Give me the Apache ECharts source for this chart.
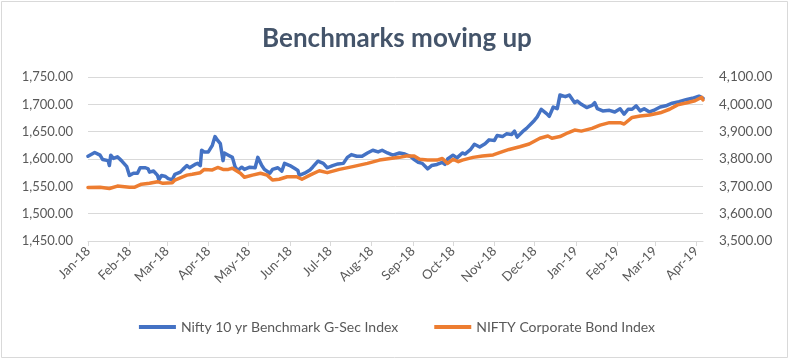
<!DOCTYPE html>
<html>
<head>
<meta charset="utf-8">
<script src="https://cdn.jsdelivr.net/npm/echarts@6/dist/echarts.min.js"></script>
<style>
html,body{margin:0;padding:0;background:#fff;}
#chart{width:794px;height:361px;}
</style>
</head>
<body>
<div id="chart"></div>
<script>
const titleText = 'Benchmarks moving up';
const seriesNames = ['Nifty 10 yr Benchmark G-Sec Index', 'NIFTY Corporate Bond Index'];

const monthTicks = ['2018-01-01','2018-02-01','2018-03-01','2018-04-01','2018-05-01','2018-06-01','2018-07-01','2018-08-01','2018-09-01','2018-10-01','2018-11-01','2018-12-01','2019-01-01','2019-02-01','2019-03-01','2019-04-01'];

const gsecDates = ['2018-01-01','2018-01-06','2018-01-10','2018-01-12','2018-01-16','2018-01-17','2018-01-18','2018-01-20','2018-01-23','2018-01-26','2018-01-30','2018-02-01','2018-02-04','2018-02-07','2018-02-09','2018-02-13','2018-02-15','2018-02-16','2018-02-19','2018-02-22','2018-02-23','2018-02-25','2018-02-28','2018-03-02','2018-03-05','2018-03-07','2018-03-11','2018-03-13','2018-03-16','2018-03-18','2018-03-22','2018-03-24','2018-03-26','2018-03-27','2018-03-29','2018-04-01','2018-04-04','2018-04-06','2018-04-08','2018-04-10','2018-04-12','2018-04-13','2018-04-16','2018-04-19','2018-04-21','2018-04-23','2018-04-26','2018-04-28','2018-05-02','2018-05-06','2018-05-08','2018-05-11','2018-05-13','2018-05-17','2018-05-19','2018-05-23','2018-05-26','2018-05-28','2018-06-01','2018-06-05','2018-06-07','2018-06-08','2018-06-12','2018-06-16','2018-06-18','2018-06-22','2018-06-26','2018-06-29','2018-07-03','2018-07-07','2018-07-11','2018-07-14','2018-07-17','2018-07-21','2018-07-25','2018-07-29','2018-08-02','2018-08-06','2018-08-09','2018-08-13','2018-08-17','2018-08-22','2018-08-26','2018-08-30','2018-09-02','2018-09-05','2018-09-08','2018-09-12','2018-09-15','2018-09-19','2018-09-23','2018-09-25','2018-09-27','2018-10-01','2018-10-04','2018-10-08','2018-10-10','2018-10-14','2018-10-17','2018-10-21','2018-10-25','2018-10-28','2018-11-01','2018-11-03','2018-11-07','2018-11-10','2018-11-14','2018-11-16','2018-11-18','2018-11-22','2018-11-25','2018-11-29','2018-12-01','2018-12-03','2018-12-06','2018-12-10','2018-12-12','2018-12-15','2018-12-18','2018-12-20','2018-12-24','2018-12-27','2018-12-31','2019-01-02','2019-01-05','2019-01-09','2019-01-13','2019-01-15','2019-01-17','2019-01-21','2019-01-26','2019-01-30','2019-02-03','2019-02-06','2019-02-09','2019-02-12','2019-02-15','2019-02-18','2019-02-21','2019-02-25','2019-03-01','2019-03-05','2019-03-10','2019-03-14','2019-03-19','2019-03-25','2019-03-29','2019-04-03','2019-04-06'];
const gsecValues = [1605,1612,1607,1599,1597,1588,1607,1601,1604,1597,1586,1570,1574,1574,1584,1584,1582,1576,1578,1570,1562,1570,1568,1564,1562,1572,1576,1581,1588,1584,1590,1592,1588,1616,1613,1613,1625,1641,1634,1628,1597,1611,1607,1603,1586,1579,1585,1581,1585,1584,1603,1588,1581,1574,1581,1584,1578,1592,1588,1582,1579,1570,1574,1580,1585,1596,1592,1584,1588,1591,1592,1603,1608,1605,1605,1611,1616,1613,1616,1611,1607,1611,1609,1605,1599,1594,1592,1582,1588,1590,1594,1590,1600,1607,1602,1611,1609,1617,1627,1622,1628,1635,1634,1643,1641,1646,1645,1651,1640,1650,1656,1666,1671,1677,1691,1683,1678,1695,1692,1717,1714,1717,1703,1706,1700,1694,1698,1703,1692,1688,1689,1686,1692,1682,1691,1691,1697,1688,1692,1686,1690,1695,1698,1702,1705,1709,1711,1715,1711];

const corpDates = ['2018-01-01','2018-01-10','2018-01-17','2018-01-23','2018-02-01','2018-02-05','2018-02-10','2018-02-16','2018-02-22','2018-02-26','2018-03-05','2018-03-07','2018-03-11','2018-03-16','2018-03-20','2018-03-26','2018-03-29','2018-04-04','2018-04-08','2018-04-12','2018-04-16','2018-04-19','2018-04-25','2018-04-28','2018-05-04','2018-05-10','2018-05-15','2018-05-19','2018-05-24','2018-05-30','2018-06-06','2018-06-10','2018-06-16','2018-06-23','2018-06-29','2018-07-08','2018-07-18','2018-07-29','2018-08-07','2018-08-15','2018-08-22','2018-08-27','2018-09-02','2018-09-06','2018-09-12','2018-09-19','2018-09-23','2018-09-27','2018-10-01','2018-10-05','2018-10-08','2018-10-16','2018-10-23','2018-10-31','2018-11-07','2018-11-12','2018-11-20','2018-11-27','2018-12-05','2018-12-11','2018-12-14','2018-12-20','2018-12-26','2018-12-31','2019-01-05','2019-01-13','2019-01-19','2019-01-26','2019-02-03','2019-02-06','2019-02-12','2019-02-18','2019-02-25','2019-03-05','2019-03-12','2019-03-18','2019-03-25','2019-03-31','2019-04-05','2019-04-06'];
const corpValues = [3696,3697,3692,3701,3697,3697,3708,3711,3717,3711,3713,3723,3731,3741,3744,3750,3762,3760,3769,3762,3762,3766,3748,3733,3741,3748,3741,3723,3726,3735,3735,3726,3741,3757,3750,3762,3772,3784,3796,3802,3806,3811,3811,3799,3796,3796,3802,3784,3799,3790,3796,3806,3811,3815,3827,3835,3845,3855,3876,3884,3876,3882,3896,3906,3902,3912,3924,3933,3933,3928,3952,3957,3961,3969,3982,3998,4006,4013,4026,4016];

const monthNames = ['Jan','Feb','Mar','Apr','May','Jun','Jul','Aug','Sep','Oct','Nov','Dec'];
function fmtNum(v) {
  const s = Math.round(v).toString().replace(/\B(?=(\d{3})+(?!\d))/g, ',');
  return s + '.00';
}
function ts(s) { return Date.UTC(+s.slice(0, 4), +s.slice(5, 7) - 1, +s.slice(8, 10)); }
function fmtMonth(v) {
  const d = new Date(v);
  return monthNames[d.getUTCMonth()] + '-' + String(d.getUTCFullYear()).slice(2);
}
const ticksTs = monthTicks.map(ts);
const toPairs = (dates, vals) => dates.map((d, i) => [ts(d), vals[i]]);

const FONT = 'Lato, "Open Sans", sans-serif';
const chart = echarts.init(document.getElementById('chart'), null, {renderer: 'canvas'});
chart.setOption({
  animation: false,
  backgroundColor: '#ffffff',
  title: {
    text: titleText,
    left: 'center',
    top: 21,
    textStyle: {fontFamily: FONT, fontSize: 26, fontWeight: 'bold', color: '#44546A'}
  },
  graphic: [{
    type: 'rect', shape: {x: 1.5, y: 1.5, width: 786, height: 356},
    style: {fill: 'none', stroke: '#d9d9d9', lineWidth: 1}, silent: true, z: -1
  }],
  legend: {
    bottom: 22,
    left: 'center',
    icon: 'rect',
    itemWidth: 37,
    itemHeight: 4,
    itemGap: 36,
    textStyle: {fontFamily: FONT, fontSize: 14, color: '#595959'},
    data: seriesNames
  },
  grid: {left: 88, right: 91, top: 77, bottom: 120, containLabel: false},
  xAxis: {
    type: 'value',
    min: ts('2018-01-01'),
    max: ts('2019-04-06'),
    axisLine: {show: true, lineStyle: {color: '#d9d9d9', width: 1}},
    axisTick: {show: true, customValues: ticksTs, length: 5, lineStyle: {color: '#d9d9d9'}},
    axisLabel: {
      customValues: ticksTs,
      rotate: 45,
      margin: 8,
      formatter: fmtMonth,
      fontFamily: FONT, fontSize: 13, color: '#595959'
    },
    splitLine: {show: false}
  },
  yAxis: [{
    type: 'value', min: 1450, max: 1750, interval: 50,
    axisLine: {show: false}, axisTick: {show: false},
    axisLabel: {formatter: fmtNum, fontFamily: FONT, fontSize: 13, color: '#595959', margin: 15},
    splitLine: {lineStyle: {color: '#d9d9d9', width: 1}}
  }, {
    type: 'value', min: 3500, max: 4100, interval: 100,
    axisLine: {show: false}, axisTick: {show: false},
    axisLabel: {formatter: fmtNum, fontFamily: FONT, fontSize: 13.5, color: '#595959', margin: 16},
    splitLine: {show: false}
  }],
  series: [{
    name: seriesNames[0], type: 'line', yAxisIndex: 0,
    data: toPairs(gsecDates, gsecValues),
    showSymbol: false, symbol: 'none',
    lineStyle: {color: '#4472C4', width: 3.5, join: 'round', cap: 'round'},
    itemStyle: {color: '#4472C4'}
  }, {
    name: seriesNames[1], type: 'line', yAxisIndex: 1,
    data: toPairs(corpDates, corpValues),
    showSymbol: false, symbol: 'none',
    lineStyle: {color: '#ED7D31', width: 3.5, join: 'round', cap: 'round'},
    itemStyle: {color: '#ED7D31'}
  }]
});
</script>
</body>
</html>
